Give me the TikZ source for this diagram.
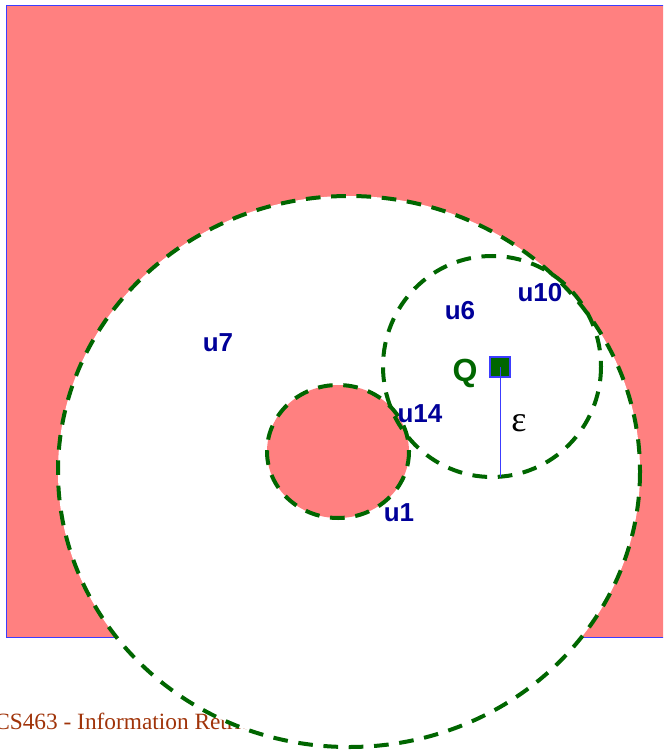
\documentclass[tikz,border=0pt]{standalone}
\usepackage{fontspec}
\setmainfont{Liberation Serif}
\setsansfont{Liberation Sans}
\usepackage{tikz}
\usetikzlibrary{positioning, calc}
\definecolor{regionPink}{RGB}{255,128,128}
\definecolor{ringGreen}{RGB}{0,102,0}
\definecolor{labelBlue}{RGB}{0,0,153}
\definecolor{frameBlue}{RGB}{60,60,255}
\definecolor{footerBrown}{RGB}{160,52,10}

\begin{document}
\begin{tikzpicture}[x=0.75pt, y=-0.75pt,
		ring/.style={draw=ringGreen, line width=3pt, dash pattern=on 11pt off 8pt},
		ulabel/.style={font=\sffamily\bfseries\fontsize{19.5}{19.5}\selectfont, text=labelBlue, inner sep=0pt}]
				\clip (0,0) rectangle (663,752);
				% Pink data region
				\fill[regionPink] (6,6) rectangle (680,637);
				\draw[frameBlue, line width=0.75pt] (680,6) -- (6,6) -- (6,637) -- (680,637);
				% Footer text (partly hidden by the ring)
				\node[font=\fontsize{17.5}{17.5}\selectfont, text=footerBrown, anchor=base west, inner sep=0pt] (footer) at (-6,729) {CS463 - Information Retrieval};
				% Outer ring and inner hole
				\filldraw[ring, fill=white] (349,471.5) ellipse [x radius=291, y radius=275.5];
				\filldraw[ring, fill=regionPink] (338,451.5) ellipse [x radius=71, y radius=66.5];
				% Query range
				\draw[ring] (492,366.5) ellipse [x radius=109, y radius=110.5];
				\node[draw=frameBlue, fill=ringGreen, line width=1pt, minimum size=15pt, inner sep=0pt] (qbox) at (500,367) {};
				\coordinate (epsend) at (500,477);
				\draw[frameBlue, line width=0.75pt] (qbox.center) -- (epsend);
				\node[font=\sffamily\bfseries\fontsize{24}{24}\selectfont, text=ringGreen, inner sep=0pt] (qlabel) at (465,373) {Q};
				\node[font=\fontsize{27}{27}\selectfont, inner sep=0pt] (eps) at (519,423) {ε};
				% Object labels
				\node[ulabel] (u7) at (218,343) {u7};
				\node[ulabel] (u6) at (460,311) {u6};
				\node[ulabel] (u10) at (540,293) {u10};
				\node[ulabel] (u14) at (420,414) {u14};
				\node[ulabel] (u1) at (399,513) {u1};
			\end{tikzpicture}
\end{document}
